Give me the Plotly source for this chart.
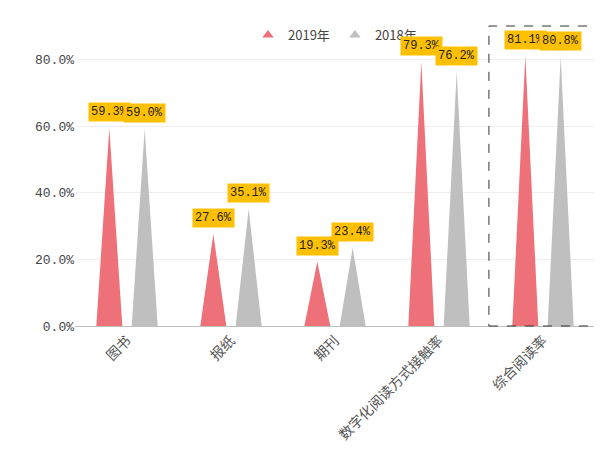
import plotly.graph_objects as go

categories = ["图书", "报纸", "期刊", "数字化阅读方式接触率", "综合阅读率"]
v2019 = [0.593, 0.276, 0.193, 0.793, 0.811]
v2018 = [0.590, 0.351, 0.234, 0.762, 0.808]
series = [("2019年", v2019, "#EE7079", -0.17), ("2018年", v2018, "#BFBFBF", 0.17)]

fig = go.Figure()
hw = 0.125
for name, vals, color, off in series:
    xs, ys = [], []
    for i, v in enumerate(vals):
        c = i + off
        xs += [c - hw, c, c + hw, c - hw, None]
        ys += [0, v, 0, 0, None]
    fig.add_trace(go.Scatter(x=xs, y=ys, fill="toself", fillcolor=color, mode="none",
                             showlegend=False, hoverinfo="skip"))
    fig.add_trace(go.Scatter(x=[None], y=[None], mode="markers", name=name,
                             marker=dict(symbol="triangle-up", color=color, size=10)))
    for i, v in enumerate(vals):
        fig.add_annotation(x=i + off, y=v, text=f"{v*100:.1f}%", showarrow=False,
                           yshift=16, bgcolor="#FFC000", borderpad=2,
                           font=dict(family="Liberation Mono, Noto Sans CJK SC", size=12, color="#222"))

fig.add_shape(type="rect", x0=3.48, x1=4.5, y0=0, y1=1, yref="paper",
              line=dict(color="#333", width=1, dash="dash"))

fig.update_layout(
    width=602, height=475, margin=dict(l=67, r=15, t=18, b=157),
    plot_bgcolor="white", paper_bgcolor="white",
    font=dict(family="Noto Sans CJK SC", color="#555", size=13),
    legend=dict(orientation="h", x=0.5, xanchor="center", y=1.02, yanchor="top",
                bgcolor="rgba(0,0,0,0)", font=dict(size=13, color="#444"),
                itemwidth=30, tracegroupgap=0),
    xaxis=dict(range=[-0.5, 4.5], tickvals=list(range(5)), ticktext=categories,
               tickangle=-45, showgrid=False, zeroline=False, showline=True, automargin=False,
               linecolor="#BFBFBF", tickfont=dict(size=14, color="#555")),
    yaxis=dict(range=[0, 0.9], tickvals=[0, 0.2, 0.4, 0.6, 0.8], tickformat=".1%",
               showgrid=True, gridcolor="#EEEEEE", zeroline=False, automargin=False,
               tickfont=dict(family="Liberation Mono", size=13, color="#444")),
)
fig.write_html("out.html")
